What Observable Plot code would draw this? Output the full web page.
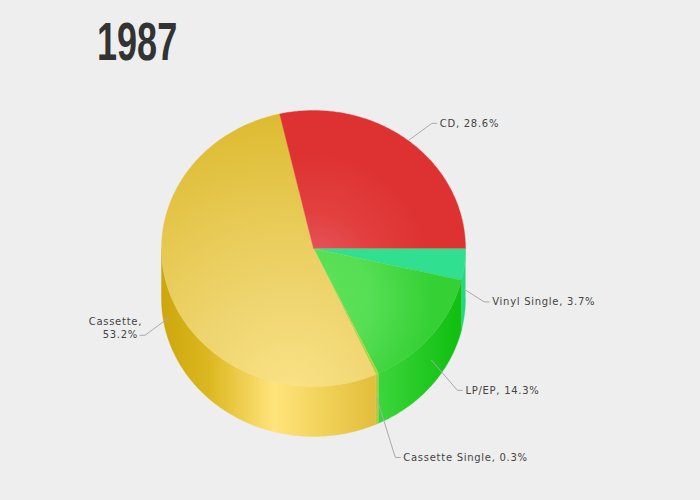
<!DOCTYPE html>
<html>
<head>
<meta charset="utf-8">
<script src="https://cdn.jsdelivr.net/npm/d3@7"></script>
<script src="https://cdn.jsdelivr.net/npm/@observablehq/plot@0.6"></script>
<style>
html,body{margin:0;padding:0;background:#eeeeee;}
#wrap{position:relative;width:700px;height:500px;overflow:hidden;}
#wrap svg text{letter-spacing:.72px;}
#title{position:absolute;left:97px;top:7px;margin:0;font:bold 53px/70px "Liberation Sans Narrow","Liberation Sans",sans-serif;color:#333333;transform:scaleX(.68);transform-origin:left top;}
</style>
</head>
<body>
<div id="wrap"><h1 id="title">1987</h1></div>
<script>
const year = "1987";
const categories = ["Vinyl Single", "LP/EP", "Cassette Single", "Cassette", "CD"];
const shares = [3.7, 14.3, 0.3, 53.2, 28.6];
const topStops = [
  ["#30df90", "#30df90"],
  ["#60e35c", "#56de54", "#34d034"],
  ["#c8d850", "#a8d038", "#a0cc30"],
  ["#fae286", "#efd570", "#e6c850", "#dcb92c"],
  ["#e75a62", "#e2403f", "#de3232"]
];
const topGlow = [[313, 248, 160], [308, 300, 125], [290, 340, 250], [290, 392, 290], [313, 268, 115]];
const wallStops = [
  [[0, "#22d880"], [1, "#22d880"]],
  [[0, "#3cd63c"], [1, "#12c012"]],
  [[0, "#b0cc40"], [1, "#b0cc40"]],
  [[0, "#ccA60c"], [.22, "#dcb820"], [.52, "#ffe47c"], [.72, "#f2d45c"], [1, "#e2bc3a"]],
  [[0, "#d02828"], [1, "#d02828"]]
];
// label elbow offset from the slice's anchor, in pie radii
const elbowX = [.13, .17, .12, -.16, .155];
const elbowY = [.09, .217, .425, .13, -.125];

const depth = 50 / 138;
const pie = d3.pie().sort(null).startAngle(Math.PI / 2).endAngle(2.5 * Math.PI)(shares);
const px = a => Math.sin(a), py = a => -Math.cos(a);
function arc(a0, a1, dy = 0) {
  const n = Math.max(2, Math.ceil((a1 - a0) / 0.01));
  return d3.range(n + 1).map(i => {
    const a = a0 + (a1 - a0) * i / n;
    return {x: px(a), y: py(a) + dy};
  });
}
const tops = pie.map(s => [{x: 0, y: 0}, ...arc(s.startAngle, s.endAngle)]);
const walls = pie.map(s => {
  const a0 = Math.max(s.startAngle, Math.PI / 2), a1 = Math.min(s.endAngle, 1.5 * Math.PI);
  return a1 > a0 ? [...arc(a0, a1), ...arc(a0, a1, depth).reverse()] : [];
});
const leaders = pie.map((s, i) => {
  const m = (s.startAngle + s.endAngle) / 2;
  const front = i < 4 ? depth / 2 : 0;
  const a = {x: px(m), y: py(m) + front};
  const e = {x: a.x + elbowX[i], y: a.y + elbowY[i]};
  const end = {x: e.x + Math.sign(elbowX[i]) * 5 / 152, y: e.y};
  return [a, e, end];
});
const labels = leaders.map((l, i) => ({x: l[2].x, y: l[2].y, name: categories[i], value: shares[i], right: elbowX[i] > 0}));
const textStyle = {fill: "#444444", fontSize: 10, fontFamily: "DejaVu Sans"};

const defsMark = () => {
  const defs = d3.create("svg:defs");
  topStops.forEach((st, i) => {
    const g = defs.append("radialGradient").attr("id", "top" + i).attr("gradientUnits", "userSpaceOnUse")
      .attr("cx", topGlow[i][0]).attr("cy", topGlow[i][1]).attr("r", topGlow[i][2]);
    st.forEach((c, k) => g.append("stop").attr("offset", k / (st.length - 1)).attr("stop-color", c));
  });
  wallStops.forEach((st, i) => {
    const g = defs.append("linearGradient").attr("id", "wall" + i).attr("gradientUnits", "userSpaceOnUse")
      .attr("x1", i === 1 ? 378 : 161).attr("x2", i === 1 ? 455 : 378).attr("y1", 0).attr("y2", 0);
    st.forEach(([o, c]) => g.append("stop").attr("offset", o).attr("stop-color", c));
  });
  return defs.node();
};

const chart = Plot.plot({
  width: 700,
  height: 500,
  margin: 0,
  style: {background: "#eeeeee"},
  x: {axis: null, domain: [-1, 1], range: [161, 465]},
  y: {axis: null, domain: [-1, 1], range: [110, 386]},
  marks: [
    defsMark,
    ...walls.map((w, i) => Plot.line(w, {x: "x", y: "y", fill: `url(#wall${i})`, stroke: `url(#wall${i})`, strokeWidth: 0.4})),
    ...tops.map((t, i) => Plot.line(t, {x: "x", y: "y", fill: `url(#top${i})`, stroke: `url(#top${i})`, strokeWidth: 0.4})),
    ...leaders.map(l => Plot.line(l, {x: "x", y: "y", stroke: "#aaaaaa", strokeWidth: 1})),
    Plot.text(labels.filter(d => d.right), {x: "x", y: "y", text: d => `${d.name}, ${d.value}%`, textAnchor: "start", dx: 3, ...textStyle}),
    Plot.text(labels.filter(d => !d.right), {x: "x", y: "y", text: d => `${d.name},`, textAnchor: "end", dx: 2, dy: -13, ...textStyle}),
    Plot.text(labels.filter(d => !d.right), {x: "x", y: "y", text: d => `${d.value}%`, textAnchor: "end", dx: -2, ...textStyle})
  ]
});
document.getElementById("wrap").prepend(chart);
document.getElementById("title").textContent = year;
</script>
</body>
</html>
